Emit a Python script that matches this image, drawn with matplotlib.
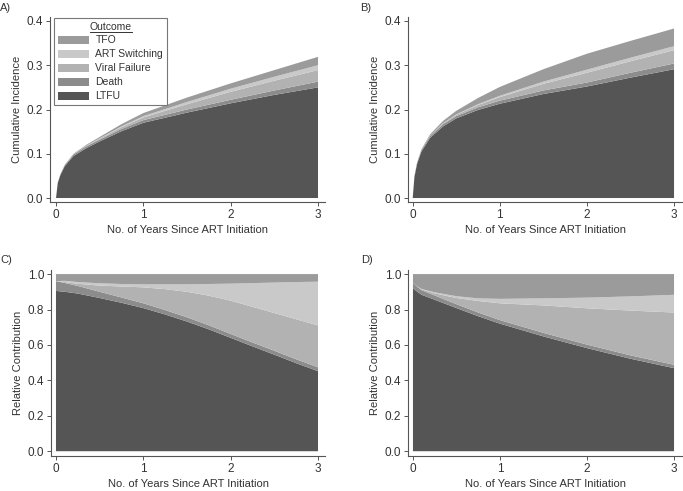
import matplotlib
matplotlib.use("Agg")
import matplotlib.pyplot as plt
from matplotlib.patches import Patch
from matplotlib.lines import Line2D

plt.rcParams["font.family"] = ["Liberation Sans", "DejaVu Sans"]

outcomes = ["LTFU", "Death", "Viral Failure", "ART Switching", "TFO"]
colors = ["#555555", "#8c8c8c", "#b2b2b2", "#c9c9c9", "#9b9b9b"]

# cumulative incidence panels (A, B)
t_ci = [0, 0.02, 0.05, 0.1, 0.2, 0.35, 0.5, 0.75, 1, 1.5, 2, 2.5, 3]

a_ltfu = [0, 0.034, 0.052, 0.072, 0.095, 0.113, 0.128, 0.151, 0.170, 0.193, 0.214, 0.233, 0.250]
a_death = [0, 0.0005, 0.001, 0.002, 0.003, 0.004, 0.004, 0.005, 0.006, 0.007, 0.008, 0.010, 0.013]
a_vf = [0, 0, 0, 0, 0.0005, 0.001, 0.002, 0.004, 0.006, 0.012, 0.018, 0.022, 0.026]
a_art = [0, 0, 0, 0, 0, 0.0005, 0.001, 0.002, 0.003, 0.005, 0.007, 0.009, 0.011]
a_tfo = [0, 0.0005, 0.001, 0.001, 0.0015, 0.002, 0.003, 0.005, 0.007, 0.010, 0.012, 0.015, 0.019]

b_ltfu = [0, 0.048, 0.077, 0.105, 0.136, 0.162, 0.180, 0.199, 0.213, 0.235, 0.252, 0.272, 0.291]
b_death = [0, 0.001, 0.002, 0.003, 0.004, 0.005, 0.005, 0.006, 0.007, 0.008, 0.009, 0.011, 0.013]
b_vf = [0, 0, 0, 0, 0.001, 0.002, 0.003, 0.005, 0.008, 0.015, 0.022, 0.026, 0.030]
b_art = [0, 0, 0, 0, 0, 0.0005, 0.001, 0.002, 0.003, 0.005, 0.007, 0.008, 0.009]
b_tfo = [0, 0.001, 0.001, 0.002, 0.003, 0.005, 0.008, 0.014, 0.020, 0.028, 0.036, 0.038, 0.040]

# relative contribution panels (C, D)
t_c = [0, 0.1, 0.25, 0.5, 0.75, 1, 1.25, 1.5, 1.75, 2, 2.25, 2.5, 2.75, 3]
c_ltfu = [0.905, 0.900, 0.890, 0.865, 0.838, 0.808, 0.772, 0.732, 0.688, 0.640, 0.592, 0.545, 0.497, 0.452]
c_death = [0.055, 0.050, 0.043, 0.035, 0.030, 0.027, 0.025, 0.024, 0.023, 0.022, 0.022, 0.022, 0.022, 0.022]
c_vf = [0, 0.005, 0.012, 0.035, 0.062, 0.090, 0.118, 0.144, 0.167, 0.188, 0.201, 0.213, 0.226, 0.236]
c_art = [0, 0.007, 0.010, 0.013, 0.014, 0.017, 0.027, 0.042, 0.066, 0.096, 0.134, 0.172, 0.210, 0.247]
c_tfo = [0.040, 0.038, 0.045, 0.052, 0.056, 0.058, 0.058, 0.058, 0.056, 0.054, 0.051, 0.048, 0.045, 0.043]

t_d = [0, 0.05, 0.1, 0.25, 0.5, 0.75, 1, 1.5, 2, 2.5, 3]
d_ltfu = [0.920, 0.900, 0.883, 0.855, 0.808, 0.762, 0.720, 0.648, 0.582, 0.522, 0.469]
d_death = [0.030, 0.028, 0.026, 0.024, 0.022, 0.021, 0.020, 0.020, 0.020, 0.019, 0.019]
d_vf = [0, 0.002, 0.005, 0.012, 0.035, 0.065, 0.095, 0.155, 0.205, 0.253, 0.295]
d_art = [0, 0, 0.002, 0.006, 0.010, 0.015, 0.025, 0.040, 0.060, 0.080, 0.100]
d_tfo = [0.050, 0.070, 0.084, 0.103, 0.125, 0.137, 0.140, 0.137, 0.133, 0.126, 0.117]

W, H = 683, 491
fig = plt.figure(figsize=(W / 100, H / 100), dpi=100)
text_col = "#333333"
axis_col = "#555555"


def px_axes(left, top, right, bottom):
    return fig.add_axes([left / W, 1 - bottom / H, (right - left) / W, (bottom - top) / H])


def style(ax, ylab, yticks, ylim, xlim):
    ax.set_xlim(*xlim)
    ax.set_ylim(*ylim)
    ax.set_xticks([0, 1, 2, 3])
    ax.set_xticklabels(["0", "1", "2", "3"])
    ax.set_yticks(yticks)
    ax.set_yticklabels([f"{v:.1f}" for v in yticks])
    for s in ["top", "right"]:
        ax.spines[s].set_visible(False)
    for s in ["left", "bottom"]:
        ax.spines[s].set_color(axis_col)
        ax.spines[s].set_linewidth(0.8)
    ax.tick_params(direction="out", length=3, width=0.7, color=axis_col,
                   labelsize=8.5, labelcolor=text_col, pad=2)
    ax.set_xlabel("No. of Years Since ART Initiation", fontsize=8, color=text_col, labelpad=3)
    ax.set_ylabel(ylab, fontsize=8, color=text_col, labelpad=3)


axA = px_axes(50, 17, 325, 202)
axB = px_axes(408, 17, 683, 202)
axC = px_axes(51, 270, 325, 456)
axD = px_axes(408, 270, 683, 456)

axA.stackplot(t_ci, a_ltfu, a_death, a_vf, a_art, a_tfo, colors=colors, linewidth=0)
axB.stackplot(t_ci, b_ltfu, b_death, b_vf, b_art, b_tfo, colors=colors, linewidth=0)
axC.stackplot(t_c, c_ltfu, c_death, c_vf, c_art, c_tfo, colors=colors, linewidth=0)
axD.stackplot(t_d, d_ltfu, d_death, d_vf, d_art, d_tfo, colors=colors, linewidth=0)

ci_ticks = [0.0, 0.1, 0.2, 0.3, 0.4]
rc_ticks = [0.0, 0.2, 0.4, 0.6, 0.8, 1.0]
style(axA, "Cumulative Incidence", ci_ticks, (-0.009, 0.409), (-0.069, 3.08))
style(axB, "Cumulative Incidence", ci_ticks, (-0.009, 0.409), (-0.054, 3.103))
style(axC, "Relative Contribution", rc_ticks, (-0.027, 1.023), (-0.057, 3.08))
style(axD, "Relative Contribution", rc_ticks, (-0.027, 1.023), (-0.057, 3.103))

for lab, x, y in [("A)", 0, 3), ("B)", 360, 3), ("C)", 0, 255), ("D)", 361, 255)]:
    fig.text(x / W, 1 - y / H, lab, fontsize=8, color=text_col, va="top", ha="left")

handles = [Patch(facecolor=c, edgecolor="none") for c in colors][::-1]
leg = axA.legend(handles, outcomes[::-1], title="Outcome", loc="upper left",
                 bbox_to_anchor=(0.0145, 0.997), borderaxespad=0, fontsize=7.5,
                 title_fontsize=7.5, handlelength=3.0, handleheight=0.8,
                 handletextpad=0.6, labelspacing=0.38, borderpad=0.38,
                 fancybox=False, framealpha=1)
leg.get_frame().set_edgecolor("#777777")
leg.get_frame().set_linewidth(0.8)
for txt in leg.get_texts():
    txt.set_color(text_col)
leg.get_title().set_color(text_col)

# underline the legend title
fig.canvas.draw()
bb = leg.get_title().get_window_extent()
inv = fig.transFigure.inverted()
(x0, y0), (x1, _) = inv.transform([(bb.x0, bb.y0 - 0.5), (bb.x1, bb.y0)])
fig.add_artist(Line2D([x0, x1], [y0, y0], color=text_col, linewidth=0.7, transform=fig.transFigure))

fig.savefig("out.png", dpi=100)
